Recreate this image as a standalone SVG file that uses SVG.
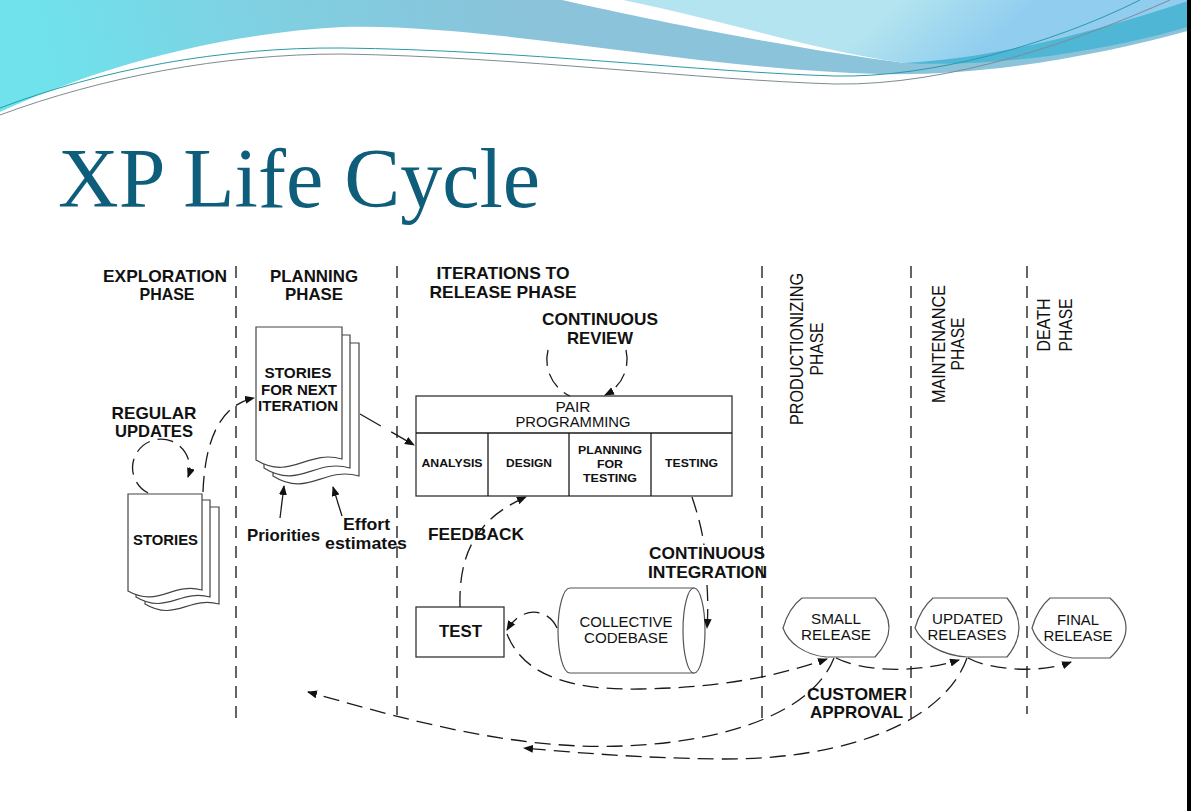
<svg xmlns="http://www.w3.org/2000/svg" width="1191" height="811" viewBox="0 0 1191 811">
  <defs>
    <linearGradient id="bandFill" gradientUnits="userSpaceOnUse" x1="520" y1="0" x2="60" y2="115">
      <stop offset="0" stop-color="#8ac3da"/>
      <stop offset="0.55" stop-color="#7fd0e2"/>
      <stop offset="1" stop-color="#6fe2ec"/>
    </linearGradient>
    <linearGradient id="skyFill" gradientUnits="userSpaceOnUse" x1="900" y1="0" x2="960" y2="70">
      <stop offset="0" stop-color="#b4e4ef"/>
      <stop offset="1" stop-color="#90cdef"/>
    </linearGradient>
    <marker id="ah" viewBox="0 0 10 8" refX="9" refY="4" markerWidth="10" markerHeight="8" markerUnits="userSpaceOnUse" orient="auto">
      <path d="M0,0 L10,4 L0,8 Z" fill="#111"/>
    </marker>
    <style>
      text { font-family: "Liberation Sans", Arial, sans-serif; fill: #111; }
      .title { font-family: "Liberation Serif", "Times New Roman", serif; font-size: 84px; fill: #0e5e7b; }
      .b { font-weight: bold; font-size: 17px; text-anchor: middle; }
      .e { font-weight: bold; font-size: 16px; text-anchor: middle; }
      .st { font-weight: bold; font-size: 15px; text-anchor: middle; }
      .s { font-weight: bold; font-size: 11.5px; text-anchor: middle; }
      .r { font-size: 14.5px; text-anchor: middle; }
      .v { font-size: 19px; text-anchor: middle; }
      .div { stroke: #111; stroke-width: 1.3; stroke-dasharray: 12 8; fill: none; }
      .flow { fill: none; stroke: #1a1a1a; stroke-width: 1.3; stroke-dasharray: 16 8; }
      .solid { fill: none; stroke: #1a1a1a; stroke-width: 1.3; }
      .box { fill: #fff; stroke: #333; stroke-width: 1.3; }
      .pg { fill: #fff; stroke: #444; stroke-width: 1.2; }
      .rel { fill: #fff; stroke: #555; stroke-width: 1.2; }
    </style>
  </defs>

  <rect width="1191" height="811" fill="#fff"/>

  <!-- header wave -->
  <g id="banner">
    <path d="M0,0 H1191 V30 C1100,55 990,76 880,74 C700,70 480,22 342,27 C200,35 80,75 0,112 Z" fill="url(#bandFill)"/>
    <path d="M562,0 H700 L905,63 C800,50 660,22 562,0 Z" fill="#fff"/>
    <path d="M623,0 H1191 V10 C1100,40 1000,62 905,63 C820,52 730,22 623,0 Z" fill="url(#skyFill)"/>
    <path d="M905,63 C1000,58 1100,30 1191,0 V26 C1110,50 1000,68 905,63 Z" fill="#4fb6d6"/>
    <path d="M0,108 C100,70 220,47 342,48 C520,50 700,72 835,76 C930,78 1050,45 1140,0" fill="none" stroke="#2a9aa8" stroke-width="1"/>
    <path d="M0,115 C100,78 220,54 342,54 C520,57 700,80 835,84 C950,86 1080,40 1170,0" fill="none" stroke="#7d8c92" stroke-width="1"/>
  </g>

  <rect x="1187" y="0" width="4" height="811" fill="#000"/>

  <text class="title" x="58" y="207">XP Life Cycle</text>

  <!-- phase dividers and headings -->
  <g id="phases">
    <line class="div" x1="236" y1="266" x2="236" y2="718"/>
    <line class="div" x1="397" y1="266" x2="397" y2="715"/>
    <line class="div" x1="762" y1="266" x2="762" y2="718"/>
    <line class="div" x1="911" y1="266" x2="911" y2="718"/>
    <line class="div" x1="1027" y1="266" x2="1027" y2="714"/>
    <text class="b" x="165" y="282" textLength="124" lengthAdjust="spacingAndGlyphs">EXPLORATION</text>
    <text class="b" x="167" y="300" textLength="55" lengthAdjust="spacingAndGlyphs">PHASE</text>
    <text class="b" x="314" y="282" textLength="88" lengthAdjust="spacingAndGlyphs">PLANNING</text>
    <text class="b" x="314" y="300" textLength="58" lengthAdjust="spacingAndGlyphs">PHASE</text>
    <text class="b" x="503" y="279" textLength="133" lengthAdjust="spacingAndGlyphs">ITERATIONS TO</text>
    <text class="b" x="503" y="298" textLength="147" lengthAdjust="spacingAndGlyphs">RELEASE PHASE</text>
    <text class="v" transform="translate(803,349) rotate(-90)" textLength="152" lengthAdjust="spacingAndGlyphs">PRODUCTIONIZING</text>
    <text class="v" transform="translate(823,349) rotate(-90)" textLength="53" lengthAdjust="spacingAndGlyphs">PHASE</text>
    <text class="v" transform="translate(945,344) rotate(-90)" textLength="118" lengthAdjust="spacingAndGlyphs">MAINTENANCE</text>
    <text class="v" transform="translate(964,344) rotate(-90)" textLength="53" lengthAdjust="spacingAndGlyphs">PHASE</text>
    <text class="v" transform="translate(1050,325) rotate(-90)" textLength="53" lengthAdjust="spacingAndGlyphs">DEATH</text>
    <text class="v" transform="translate(1072,325) rotate(-90)" textLength="53" lengthAdjust="spacingAndGlyphs">PHASE</text>
  </g>

  <!-- exploration: story cards -->
  <g id="stories">
    <path class="pg" d="M145,507 H219 V604 C189,596 175,622 145,604 Z"/>
    <path class="pg" d="M136,500 H210 V597 C180,589 166,615 136,597 Z"/>
    <path class="pg" d="M128,494 H202 V590 C172,582 158,608 128,591 Z"/>
    <text class="st" x="165.5" y="545" textLength="65" lengthAdjust="spacingAndGlyphs">STORIES</text>
  </g>

  <g id="regular-updates-label">
    <text class="b" x="154" y="419" textLength="85" lengthAdjust="spacingAndGlyphs">REGULAR</text>
    <text class="b" x="154" y="437" textLength="78" lengthAdjust="spacingAndGlyphs">UPDATES</text>
  </g>

  <!-- planning: stories for next iteration -->
  <g id="next-stories">
    <path class="pg" d="M273,343 H359 V476 C324,466 308,498 273,476 Z"/>
    <path class="pg" d="M264,335 H350 V468 C315,458 299,490 264,468 Z"/>
    <path class="pg" d="M256,327 H342 V459 C307,449 291,481 256,460 Z"/>
    <text class="st" x="298" y="378" textLength="67" lengthAdjust="spacingAndGlyphs">STORIES</text>
    <text class="st" x="299" y="395" textLength="76" lengthAdjust="spacingAndGlyphs">FOR NEXT</text>
    <text class="st" x="298" y="411" textLength="80" lengthAdjust="spacingAndGlyphs">ITERATION</text>
  </g>

  <g id="planning-inputs">
    <text class="b" x="283.5" y="541" textLength="73" lengthAdjust="spacingAndGlyphs">Priorities</text>
    <text class="e" x="366.5" y="530" textLength="47" lengthAdjust="spacingAndGlyphs">Effort</text>
    <text class="e" x="366" y="549" textLength="82" lengthAdjust="spacingAndGlyphs">estimates</text>
  </g>

  <!-- iteration: pair programming block -->
  <g id="pair-programming">
    <rect class="box" x="416" y="396" width="316" height="100"/>
    <line class="solid" x1="416" y1="433" x2="732" y2="433"/>
    <line class="solid" x1="488" y1="433" x2="488" y2="496"/>
    <line class="solid" x1="569" y1="433" x2="569" y2="496"/>
    <line class="solid" x1="651" y1="433" x2="651" y2="496"/>
    <text class="r" x="573" y="412" textLength="35" lengthAdjust="spacingAndGlyphs">PAIR</text>
    <text class="r" x="573" y="427" textLength="115" lengthAdjust="spacingAndGlyphs">PROGRAMMING</text>
    <text class="s" x="452" y="467" textLength="61" lengthAdjust="spacingAndGlyphs">ANALYSIS</text>
    <text class="s" x="529" y="467" textLength="46" lengthAdjust="spacingAndGlyphs">DESIGN</text>
    <text class="s" x="610" y="454" textLength="64" lengthAdjust="spacingAndGlyphs">PLANNING</text>
    <text class="s" x="610" y="467.5" textLength="26" lengthAdjust="spacingAndGlyphs">FOR</text>
    <text class="s" x="610" y="481.5" textLength="54" lengthAdjust="spacingAndGlyphs">TESTING</text>
    <text class="s" x="691.5" y="467" textLength="53" lengthAdjust="spacingAndGlyphs">TESTING</text>
  </g>

  <g id="review-label">
    <text class="b" x="600" y="325" textLength="116" lengthAdjust="spacingAndGlyphs">CONTINUOUS</text>
    <text class="b" x="600" y="344" textLength="66" lengthAdjust="spacingAndGlyphs">REVIEW</text>
  </g>

  <g id="feedback-label">
    <text class="b" x="476" y="540" textLength="96" lengthAdjust="spacingAndGlyphs">FEEDBACK</text>
  </g>

  <g id="integration-label">
    <text class="b" x="707" y="559" textLength="116" lengthAdjust="spacingAndGlyphs">CONTINUOUS</text>
    <text class="b" x="707.5" y="578" textLength="119" lengthAdjust="spacingAndGlyphs">INTEGRATION</text>
  </g>

  <g id="test">
    <rect class="box" x="416" y="607" width="88" height="50"/>
    <text class="b" x="460.5" y="637" textLength="43" lengthAdjust="spacingAndGlyphs">TEST</text>
  </g>

  <g id="codebase">
    <path class="rel" d="M570,588 H694 V673 H570 A12,42.5 0 0 1 570,588 Z"/>
    <ellipse class="rel" cx="694" cy="630.5" rx="11" ry="42.5"/>
    <text class="r" x="626" y="627" font-size="15" textLength="93" lengthAdjust="spacingAndGlyphs">COLLECTIVE</text>
    <text class="r" x="626" y="643" font-size="15" textLength="84" lengthAdjust="spacingAndGlyphs">CODEBASE</text>
  </g>

  <!-- releases -->
  <g id="small-release">
    <path class="rel" d="M802,598 H875 Q903,627.5 875,657 H826 C805,655 788,643 783,628 C787,614 794,604 802,598 Z"/>
    <text class="r" x="836" y="624" textLength="50" lengthAdjust="spacingAndGlyphs">SMALL</text>
    <text class="r" x="836" y="640" textLength="70" lengthAdjust="spacingAndGlyphs">RELEASE</text>
  </g>

  <g id="updated-releases">
    <path class="rel" d="M933,598 H1007 Q1031,627.5 1007,657 H967 C940,655 922,643 915,628 C919,614 926,604 933,598 Z"/>
    <text class="r" x="967.5" y="624" textLength="71" lengthAdjust="spacingAndGlyphs">UPDATED</text>
    <text class="r" x="967" y="640" textLength="79" lengthAdjust="spacingAndGlyphs">RELEASES</text>
  </g>

  <g id="final-release">
    <path class="rel" d="M1050,598 H1110 Q1142,628 1110,658 H1073 C1052,656 1037,643 1032,628 C1036,614 1043,604 1050,598 Z"/>
    <text class="r" x="1078" y="625" textLength="42" lengthAdjust="spacingAndGlyphs">FINAL</text>
    <text class="r" x="1078" y="641" textLength="69" lengthAdjust="spacingAndGlyphs">RELEASE</text>
  </g>

  <g id="approval-label">
    <text class="b" x="857" y="700" textLength="100" lengthAdjust="spacingAndGlyphs">CUSTOMER</text>
    <text class="b" x="856.5" y="718" textLength="93" lengthAdjust="spacingAndGlyphs">APPROVAL</text>
  </g>

  <!-- connectors -->
  <g id="connectors">
    <path class="flow" d="M203,492 C205,440 220,405 254,398" marker-end="url(#ah)"/>
    <path class="flow" d="M148,493 A28.5,28.5 0 1 1 188,477" marker-end="url(#ah)"/>
    <path class="solid" d="M360,414 L414,445" stroke-dasharray="24 12" marker-end="url(#ah)"/>
    <path class="solid" d="M280,518 L284,486" marker-end="url(#ah)"/>
    <path class="solid" d="M342,516 L333,487" marker-end="url(#ah)"/>
    <path class="flow" d="M548,350 A40,40 0 0 0 570,396"/>
    <path class="flow" d="M626,350 A40,40 0 0 1 605,395" marker-end="url(#ah)"/>
    <path class="flow" d="M460,607 C459,565 468,522 526,497" marker-end="url(#ah)"/>
    <path class="flow" d="M692,497 C698,515 702,530 704,545"/>
    <path class="flow" d="M707,585 C708,600 708,615 707,628" marker-end="url(#ah)"/>
    <path class="flow" d="M557,628 C548,608 522,605 507,630" marker-end="url(#ah)"/>
    <path class="flow" d="M507,634 C525,680 580,690 640,689 C700,688 760,682 827,659" marker-end="url(#ah)"/>
    <path class="flow" d="M836,658 C860,670 910,675 959,660" marker-end="url(#ah)"/>
    <path class="flow" d="M968,658 C990,670 1040,674 1071,662" marker-end="url(#ah)"/>
    <path class="flow" d="M834,658 C810,720 700,750 580,746 C480,742 380,712 308,692" marker-end="url(#ah)"/>
    <path class="flow" d="M967,658 C945,720 850,760 720,759 C640,758 580,753 524,748" marker-end="url(#ah)"/>
  </g>
</svg>
